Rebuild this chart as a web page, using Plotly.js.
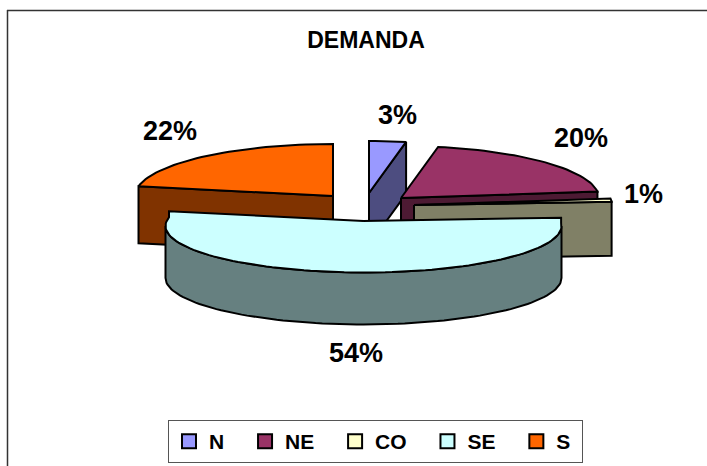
<!DOCTYPE html>
<html><head><meta charset="utf-8">
<script src="https://cdn.plot.ly/plotly-3.0.1.min.js"></script>
<style>html,body{margin:0;padding:0;background:#fff}#c{width:707px;height:466px}</style>
</head><body><div id="c"></div>
<script>
const categories = ['N','NE','CO','SE','S'];
const values = [3,20,1,54,22];
const topColors = ['#9999ff','#993366','#ffffcc','#ccffff','#ff6600'];
const sideColors = ['#4d4d80','#4d1a33','#808066','#668080','#803300'];
const centersX = [369,401,414,363.5,333];
const centersY = [193,198,205,221,196];
const depths = [52,52,54,52,57];
const rimDrop = [0,0,0,5,0];
const rimRy = [52,52,52,46.5,52];
const labelX = [397,581,643,356,170];
const labelY = [115,138,194,353,131];
const drawOrder = [0,1,2,4,3];
const rx = 198, ry = 52;

const total = values.reduce((a,b)=>a+b,0);
const starts = []; let acc = 0;
values.forEach(v=>{starts.push(acc); acc += v/total*360;});
const pt = (i,a,dz)=>{const r=a*Math.PI/180;return [centersX[i]+rx*Math.sin(r), centersY[i]-ry*Math.cos(r)+(dz||0)];};
const rim = (i,a,dz)=>{const r=a*Math.PI/180;return [centersX[i]+rx*Math.sin(r), centersY[i]+rimDrop[i]-rimRy[i]*Math.cos(r)+(dz||0)];};
function arc(i,a0,a1,dz){const n=Math.max(2,Math.ceil(Math.abs(a1-a0)/2));const o=[];for(let k=0;k<=n;k++)o.push(rim(i,a0+(a1-a0)*k/n,dz));return o;}
function poly(points,fill,lw){return {type:'scatter',mode:'lines',x:points.map(p=>p[0]),y:points.map(p=>p[1]),fill:'toself',fillcolor:fill,line:{color:'#000',width:lw||2},showlegend:false,hoverinfo:'skip'};}
const traces=[];
drawOrder.forEach(i=>{
  const a0=starts[i],a1=a0+values[i]/total*360,depth=depths[i];
  const c=[centersX[i],centersY[i]];
  const cd=[c[0],c[1]+depth];
  if(a1>0&&a1<180){const e=pt(i,a1),ed=pt(i,a1,depth);traces.push(poly([c,e,ed,cd,c],sideColors[i]));}
  if(a0>180&&a0<360){const e=pt(i,a0),ed=pt(i,a0,depth);traces.push(poly([c,e,ed,cd,c],sideColors[i]));}
  const w0=Math.max(a0,90),w1=Math.min(a1,270);
  if(w1>w0){const t=arc(i,w0,w1,0),b=arc(i,w1,w0,depth);traces.push(poly(t.concat(b,[t[0]]),sideColors[i]));}
  traces.push(poly([c,pt(i,a0)].concat(arc(i,a0,a1,0),[pt(i,a1),c]),topColors[i]));
});
categories.forEach((n,i)=>traces.push({type:'scatter',mode:'markers',x:[null],y:[null],name:n+(i<categories.length-1?'\u00a0\u00a0\u2009':'\u00a0'),marker:{symbol:'square',size:14,color:topColors[i],line:{color:'#000',width:2}},hoverinfo:'skip'}));
const layout={
  width:707,height:466,margin:{l:0,r:0,t:0,b:0},paper_bgcolor:'#fff',plot_bgcolor:'#fff',
  font:{family:'"Liberation Sans",Arial,sans-serif',color:'#000'},
  title:{text:'<b>DEMANDA</b>',x:366/707,xanchor:'center',y:1-40/466,yanchor:'middle',font:{size:23,color:'#000'}},
  xaxis:{range:[0,707],visible:false,fixedrange:true},
  yaxis:{range:[466,0],visible:false,fixedrange:true},
  showlegend:true,
  legend:{orientation:'h',x:168/707,y:1-420/466,xanchor:'left',yanchor:'top',bgcolor:'#fff',bordercolor:'#555',borderwidth:1,font:{size:21,color:'#000',weight:'bold'},itemwidth:30,itemclick:false,itemdoubleclick:false},
  annotations:categories.map((n,i)=>({xref:'x',yref:'y',x:labelX[i],y:labelY[i],text:'<b>'+values[i]+'%</b>',showarrow:false,font:{size:27,color:'#000'},xanchor:'center',yanchor:'middle'})),
  shapes:[
    {type:'line',xref:'x',yref:'y',x0:7.5,x1:7.5,y0:10,y1:466,line:{color:'#333',width:1.5}},
    {type:'line',xref:'x',yref:'y',x0:7,x1:707,y0:10.5,y1:10.5,line:{color:'#333',width:1.5}}
  ]
};
Plotly.newPlot('c',traces,layout,{displayModeBar:false});
</script></body></html>
